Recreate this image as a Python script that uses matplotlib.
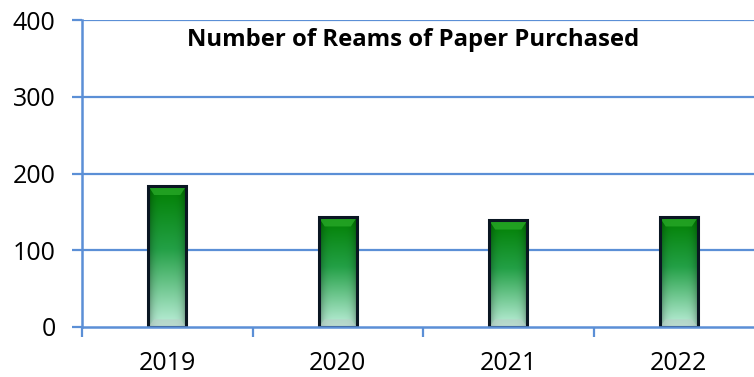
import numpy as np
import matplotlib
matplotlib.use("Agg")
import matplotlib.pyplot as plt
from matplotlib.colors import to_rgb
from matplotlib.patches import Polygon

years = ["2019", "2020", "2021", "2022"]
reams = [184, 143, 139, 143]
title = "Number of Reams of Paper Purchased"
yticks = [0, 100, 200, 300, 400]

blue = "#5B8FD6"
plt.rcParams['font.family'] = ['Open Sans', 'DejaVu Sans']

fig = plt.figure(figsize=(7.54, 3.77), dpi=100)
ax = fig.add_axes([82/754, 50/377, 682/754, 307/377])
ax.set_xlim(-0.5, 3.5)
ax.set_ylim(0, 400)

# gridlines
for yv in yticks[1:]:
    ax.axhline(yv, color=blue, lw=1.6, zorder=1)

# bar gradient image
top_c = np.array(to_rgb("#007f00"))
mid_c = np.array(to_rgb("#23a046"))
bot_c = np.array(to_rgb("#bff0dc"))
n = 200
t = np.linspace(0, 1, n)[:, None]  # 0 bottom .. 1 top
col = np.where(t > 0.55,
               mid_c + (top_c - mid_c) * ((t - 0.55) / 0.45),
               bot_c + (mid_c - bot_c) * (t / 0.55))
m = 40
s = np.linspace(-1, 1, m)[None, :]
shade = 1 - 0.35 * np.abs(s) ** 4
img = col[:, None, :] * shade[:, :, None]
img = np.clip(img, 0, 1)

w = 0.225
x = np.arange(len(years))
bars = ax.bar(x, reams, w, color="none", edgecolor="#0a1622", lw=2.2, zorder=4)
for xi, v in zip(x, reams):
    ax.imshow(img, extent=[xi - w/2, xi + w/2, 0, v], origin="lower",
              aspect="auto", zorder=3, interpolation="bilinear")
    bw = w * 0.16
    # bevel top
    bh = 12
    ax.add_patch(Polygon([[xi - w/2, v], [xi + w/2, v], [xi + w/2 - bw, v - bh],
                          [xi - w/2 + bw, v - bh]], closed=True,
                         facecolor="#28a828", edgecolor="none", alpha=0.8, zorder=3.5))
    # bevel bottom
    bh = 10
    ax.add_patch(Polygon([[xi - w/2, 0], [xi + w/2, 0], [xi + w/2 - bw, bh],
                          [xi - w/2 + bw, bh]], closed=True,
                         facecolor="#b8cdc6", edgecolor="none", alpha=0.6, zorder=3.5))
ax.set_xlim(-0.5, 3.5)
ax.set_ylim(0, 400)

# spines
for sp in ["top", "right"]:
    ax.spines[sp].set_visible(False)
ax.spines["left"].set_color(blue)
ax.spines["left"].set_linewidth(1.8)
ax.spines["bottom"].set_color(blue)
ax.spines["bottom"].set_linewidth(1.8)
ax.spines["bottom"].set_zorder(5)

ax.set_yticks(yticks)
ax.set_yticklabels([str(v) for v in yticks], fontsize=18)
ax.tick_params(axis="y", length=7, width=1.6, color=blue, pad=12, labelcolor="black")

ax.set_xticks([-0.5, 0.5, 1.5, 2.5])
ax.set_xticklabels([])
ax.tick_params(axis="x", which="major", length=7, width=1.6, color=blue)
ax.set_xticks(x, minor=True)
ax.set_xticklabels(years, minor=True, fontsize=18)
ax.tick_params(axis="x", which="minor", length=0, pad=17, labelcolor="black")

ax.text((413 - 82) / 682, (327 - 40) / 307, title, transform=ax.transAxes,
        ha="center", va="center", fontsize=17.2, fontweight="bold")

fig.savefig("out.png", dpi=100)
